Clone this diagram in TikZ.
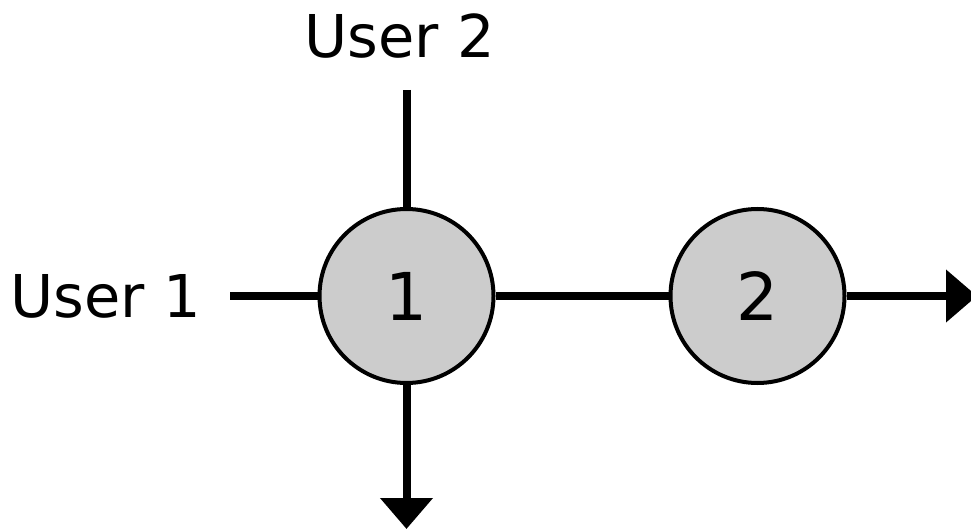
\documentclass[tikz,border=0pt]{standalone}
\usepackage{fontspec}
\setmainfont{DejaVu Sans}
\usetikzlibrary{arrows.meta}
\definecolor{nodegray}{HTML}{CCCCCC}
\begin{document}
\begin{tikzpicture}[x=1pt,y=-1pt,
  station/.style={circle,draw=black,line width=4pt,fill=nodegray,minimum size=174pt,inner sep=0pt,font=\fontsize{66}{66}\selectfont},
  label/.style={inner sep=0pt,font=\fontsize{59}{59}\selectfont},
  link/.style={line width=8pt,draw=black},
  flow/.style={link,-{Triangle[length=31pt,width=51pt]}}]
\useasboundingbox (0,0) rectangle (971,529);
\node[station] (c1) at (406.5,296) {1};
\node[station] (c2) at (757.5,296) {2};
\node[label] (u1) at (106,296) {User 1};
\node[label] (u2) at (400,36) {User 2};
\coordinate (a1) at (230,296);
\coordinate (a2) at (406.5,90);
\coordinate (d1) at (406.5,529);
\coordinate (r2) at (977,296);
\draw[link] (a1) -- (c1);
\draw[link] (a2) -- (c1);
\draw[link] (c1) -- (c2);
\draw[flow] (c1) -- (d1);
\draw[flow] (c2) -- (r2);
\end{tikzpicture}
\end{document}
